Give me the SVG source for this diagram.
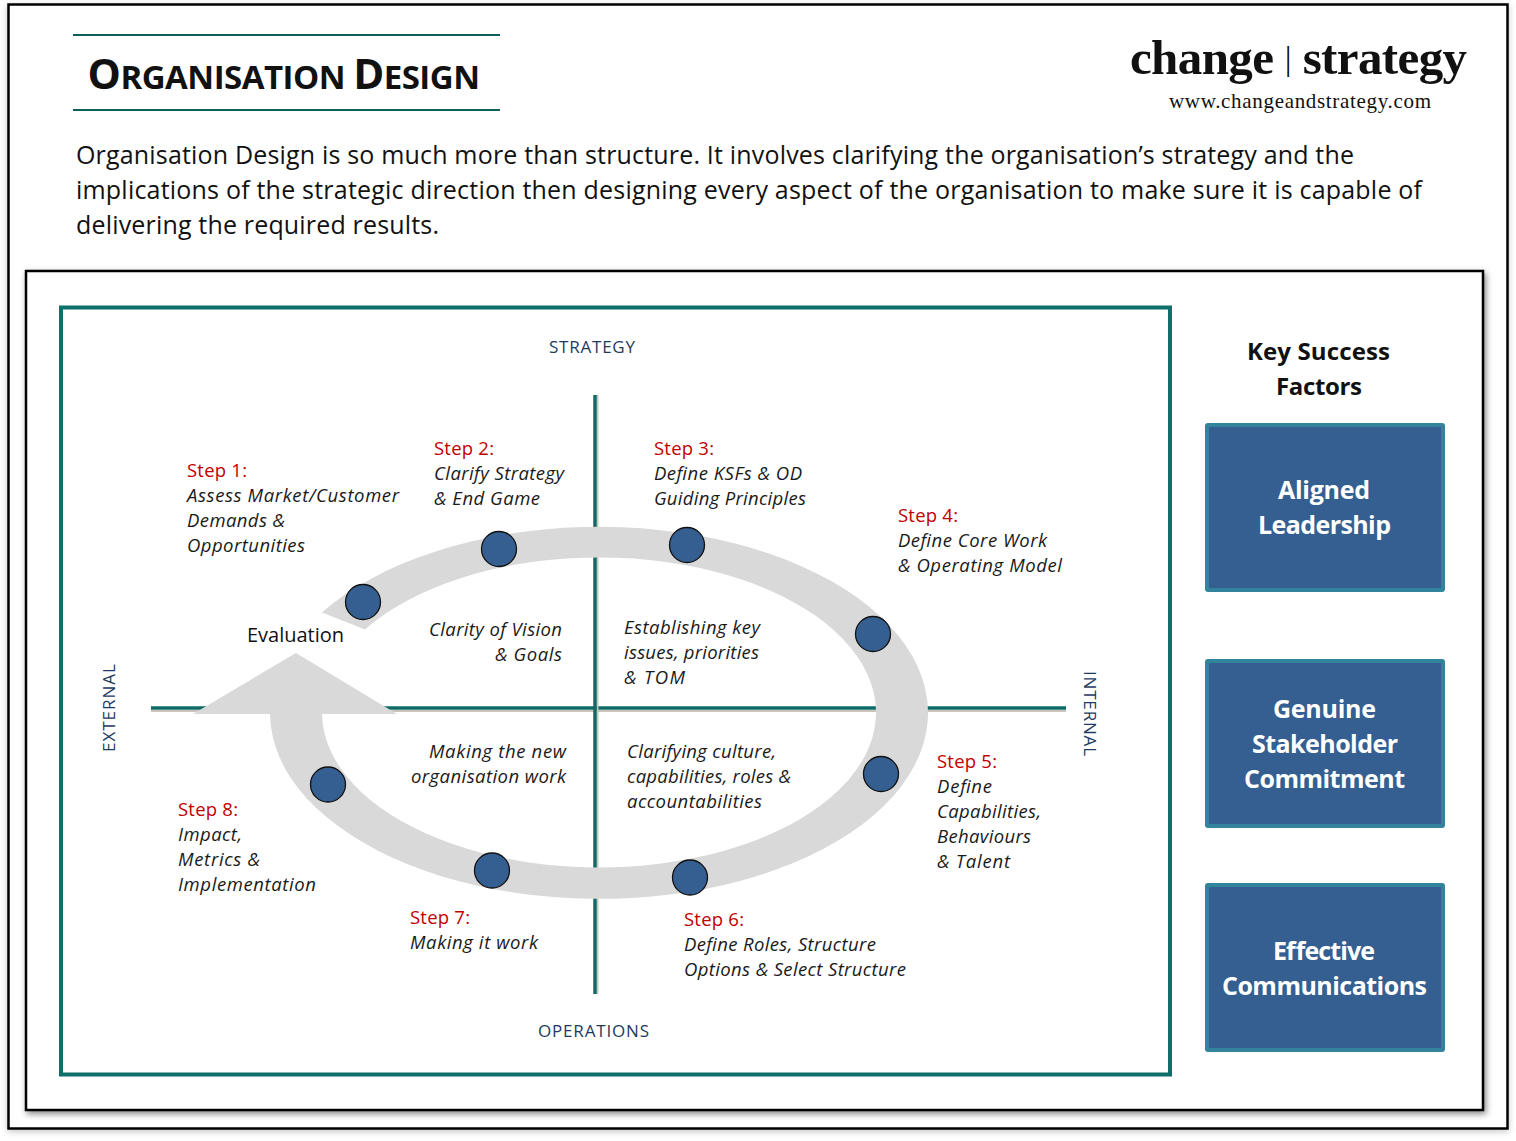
<svg xmlns="http://www.w3.org/2000/svg" width="1516" height="1141" viewBox="0 0 1516 1141">
<defs>
<style>
text{font-family:"Open Sans","Liberation Sans",sans-serif;fill:#111}
.body{font-size:25px}
.step{font-size:18.5px;fill:#c00000}
.it{font-size:18.5px;font-style:italic;fill:#1a1a1a}
.axis{font-size:17px;fill:#1f3a5f}
.kh{font-size:24px;font-weight:700}
.bx{font-size:25px;font-weight:700;fill:#fff}
.box{fill:#355f91;stroke:#31849b;stroke-width:4}
.dot{fill:#355f91;stroke:#111;stroke-width:1.3}
.ax{stroke:#0f6b66;stroke-width:3.5;fill:none}
.axs{stroke:#c9c5bb;stroke-width:2;fill:none}
.rule{stroke:#0f5f5c;stroke-width:2}
.ring{fill:#d9d9d9}
</style>
<filter id="sh" x="-2%" y="-2%" width="104%" height="104%"><feDropShadow dx="2" dy="3" stdDeviation="3" flood-color="#000" flood-opacity=".45"/></filter>
<filter id="sh2" x="-2%" y="-2%" width="104%" height="104%"><feDropShadow dx="0" dy="2" stdDeviation="3" flood-color="#000" flood-opacity=".22"/></filter>
</defs>
<rect width="1516" height="1141" fill="#fff"/>
<rect id="outer-frame" x="8.5" y="4.5" width="1499" height="1124" fill="#fff" stroke="#000" stroke-width="2.5" filter="url(#sh2)"/>
<g id="title">
<line class="rule" x1="73" y1="35" x2="500" y2="35"/>
<line class="rule" x1="73" y1="110" x2="500" y2="110"/>
<text x="87.500" y="89" font-weight="700" font-size="33" textLength="392.500" fill="#000"><tspan font-size="42">O</tspan>RGANISATION <tspan font-size="42">D</tspan>ESIGN</text>
</g>
<g id="logo">
<text x="1130" y="74" font-size="49" font-weight="700" textLength="337" style="font-family:'Liberation Serif',serif">change <tspan font-size="34" font-weight="400" dy="-4">|</tspan><tspan dy="4"> strategy</tspan></text>
<text x="1169" y="108" font-size="21" textLength="262" style="font-family:'Liberation Serif',serif">www.changeandstrategy.com</text>
</g>
<g id="intro">
<text class="body" x="76" y="164" textLength="1278">Organisation Design is so much more than structure.  It involves clarifying the organisation’s strategy and the</text>
<text class="body" x="76" y="199" textLength="1346">implications of the strategic direction then designing every aspect of the organisation to make sure it is capable of</text>
<text class="body" x="76" y="234" textLength="363">delivering the required results.</text>
</g>
<rect id="panel" x="26" y="271" width="1457" height="839" fill="#fff" stroke="#000" stroke-width="2.5" filter="url(#sh)"/>
<rect id="model-frame" x="61" y="307.500" width="1109" height="767" fill="#fff" stroke="#0f6f6b" stroke-width="4"/>
<g id="connectors">
<line class="axs" x1="151" y1="711" x2="1066" y2="711"/>
<line class="ax" x1="151" y1="708" x2="1066" y2="708"/>
<line class="axs" x1="597.500" y1="395" x2="597.500" y2="994"/>
<line class="ax" x1="595" y1="395" x2="595" y2="994"/>
<path class="ring" d="M322,612.500 A329,186 0 1 1 270,713.500 L322,713.500 A277,155 0 1 0 365,629.500 Z"/>
<polygon class="ring" points="296,653 397,714 193,714"/>
</g>
<g id="step1"><circle class="dot" cx="363" cy="602" r="17.500"/>
<text class="step" x="187" y="477" textLength="60">Step 1:</text>
<text class="it" x="187" y="502" textLength="212">Assess Market/Customer</text>
<text class="it" x="187" y="527" textLength="98">Demands &amp;</text>
<text class="it" x="187" y="552" textLength="118">Opportunities</text></g>
<g id="step2"><circle class="dot" cx="499" cy="549" r="17.500"/>
<text class="step" x="434" y="455" textLength="60">Step 2:</text>
<text class="it" x="434" y="480" textLength="130">Clarify Strategy</text>
<text class="it" x="434" y="505" textLength="106">&amp; End Game</text></g>
<g id="step3"><circle class="dot" cx="687" cy="545" r="17.500"/>
<text class="step" x="654" y="455" textLength="60">Step 3:</text>
<text class="it" x="654" y="480" textLength="148">Define KSFs &amp; OD</text>
<text class="it" x="654" y="505" textLength="152">Guiding Principles</text></g>
<g id="step4"><circle class="dot" cx="873" cy="634" r="17.500"/>
<text class="step" x="898" y="522" textLength="60">Step 4:</text>
<text class="it" x="898" y="547" textLength="149">Define Core Work</text>
<text class="it" x="898" y="572" textLength="164">&amp; Operating Model</text></g>
<g id="step5"><circle class="dot" cx="881" cy="774" r="17.500"/>
<text class="step" x="937" y="768" textLength="60">Step 5:</text>
<text class="it" x="937" y="793" textLength="55">Define</text>
<text class="it" x="937" y="818" textLength="104">Capabilities,</text>
<text class="it" x="937" y="843" textLength="94">Behaviours</text>
<text class="it" x="937" y="868" textLength="73">&amp; Talent</text></g>
<g id="step6"><circle class="dot" cx="690" cy="877.500" r="17.500"/>
<text class="step" x="684" y="926" textLength="60">Step 6:</text>
<text class="it" x="684" y="951" textLength="192">Define Roles, Structure</text>
<text class="it" x="684" y="976" textLength="222">Options &amp; Select Structure</text></g>
<g id="step7"><circle class="dot" cx="492" cy="870.500" r="17.500"/>
<text class="step" x="410" y="924" textLength="60">Step 7:</text>
<text class="it" x="410" y="949" textLength="128">Making it work</text></g>
<g id="step8"><circle class="dot" cx="328" cy="784.500" r="17.500"/>
<text class="step" x="178" y="816" textLength="60">Step 8:</text>
<text class="it" x="178" y="841" textLength="64">Impact,</text>
<text class="it" x="178" y="866" textLength="82">Metrics &amp;</text>
<text class="it" x="178" y="891" textLength="138">Implementation</text></g>
<g id="quadrant-labels">
<text class="it" x="429" y="636" textLength="133">Clarity of Vision</text>
<text class="it" x="495" y="661" textLength="67">&amp; Goals</text>
<text class="it" x="624" y="634" textLength="136">Establishing key</text>
<text class="it" x="624" y="659" textLength="135">issues, priorities</text>
<text class="it" x="624" y="684" textLength="61">&amp; TOM</text>
<text class="it" x="429" y="758" textLength="137">Making the new</text>
<text class="it" x="411" y="783" textLength="155">organisation work</text>
<text class="it" x="627" y="758" textLength="149">Clarifying culture,</text>
<text class="it" x="627" y="783" textLength="164">capabilities, roles &amp;</text>
<text class="it" x="627" y="808" textLength="135">accountabilities</text>
</g>
<g id="evaluation"><text x="247" y="642" font-size="20" textLength="97">Evaluation</text></g>
<g id="axis-labels">
<text class="axis" x="549" y="353" textLength="86">STRATEGY</text>
<text class="axis" x="538" y="1037" textLength="111">OPERATIONS</text>
<text class="axis" transform="translate(115,752) rotate(-90)" textLength="88">EXTERNAL</text>
<text class="axis" transform="translate(1084,671) rotate(90)" textLength="85">INTERNAL</text>
</g>
<g id="key-success-title">
<text class="kh" x="1247" y="360" textLength="143">Key Success</text>
<text class="kh" x="1276" y="395" textLength="86">Factors</text>
</g>
<g id="factor1"><rect class="box" x="1207" y="425" width="236" height="165" rx="1"/>
<text class="bx" x="1278" y="499" textLength="92">Aligned</text>
<text class="bx" x="1258" y="534" textLength="133">Leadership</text></g>
<g id="factor2"><rect class="box" x="1207" y="661" width="236" height="165" rx="1"/>
<text class="bx" x="1273" y="718" textLength="103">Genuine</text>
<text class="bx" x="1252" y="753" textLength="146">Stakeholder</text>
<text class="bx" x="1244" y="788" textLength="161">Commitment</text></g>
<g id="factor3"><rect class="box" x="1207" y="885" width="236" height="165" rx="1"/>
<text class="bx" x="1273" y="960" textLength="102">Effective</text>
<text class="bx" x="1222" y="995" textLength="205">Communications</text></g>
</svg>
